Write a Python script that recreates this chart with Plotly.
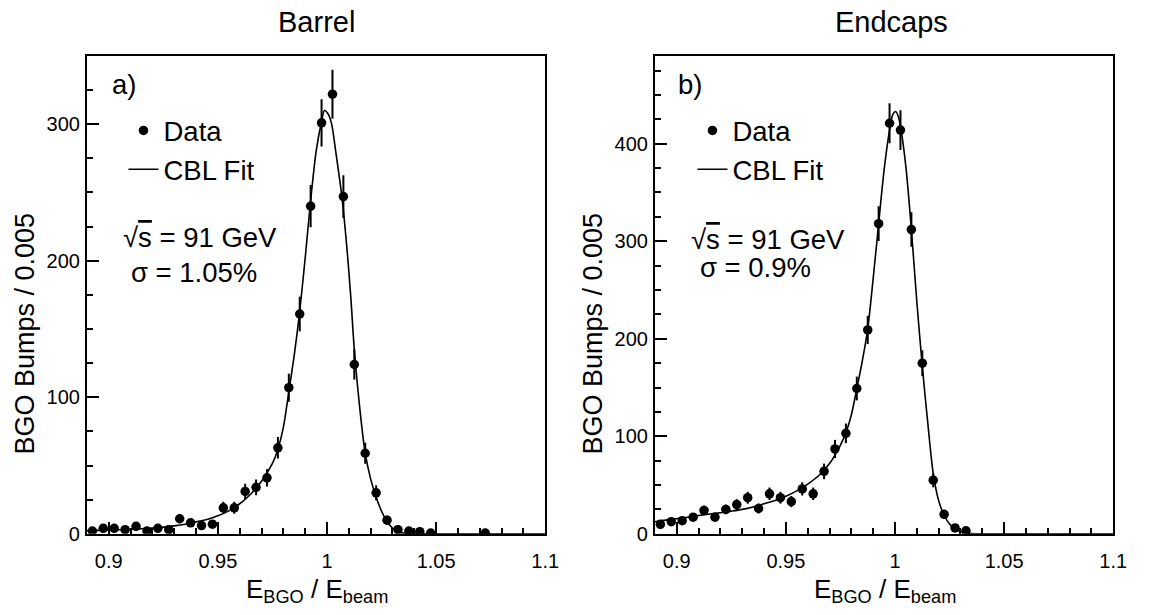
import plotly.graph_objects as go

# ---------------- data ----------------
bins_a = [0.8925, 0.8975, 0.9025, 0.9075, 0.9125, 0.9175, 0.9225, 0.9275, 0.9325, 0.9375,
          0.9425, 0.9475, 0.9525, 0.9575, 0.9625, 0.9675, 0.9725, 0.9775, 0.9825, 0.9875,
          0.9925, 0.9975, 1.0025, 1.0075, 1.0125, 1.0175, 1.0225, 1.0275, 1.0325, 1.0375,
          1.0425, 1.0475, 1.0725]
counts_a = [2, 4, 4, 3, 5.5, 2, 4, 3, 11, 8,
            6, 7, 19, 19, 31, 34, 41, 63, 107, 161,
            240, 301, 322, 247, 124, 59, 30, 10, 3, 2,
            1.5, 0.5, 0.5]
errors_a = [1.4, 2, 2, 1.7, 2.3, 1.4, 2, 1.7, 3.3, 2.8,
            2.4, 2.6, 4.4, 4.4, 5.6, 5.8, 6.4, 7.9, 10.3, 12.7,
            15.5, 17.3, 17.9, 15.7, 11.1, 7.7, 5.5, 3.2, 1.7, 1.4,
            1.2, 0.7, 0.7]

fit_x_a = [0.89, 0.895, 0.90, 0.905, 0.91, 0.915, 0.92, 0.925, 0.93, 0.935,
           0.94, 0.945, 0.95, 0.955, 0.96, 0.965, 0.97, 0.975, 0.9775, 0.98,
           0.9825, 0.985, 0.9875, 0.99, 0.9925, 0.995, 0.9975, 0.9988, 1.0003, 1.002,
           1.004, 1.0068, 1.0093, 1.011, 1.0125, 1.015, 1.0175, 1.02, 1.0225, 1.025,
           1.0275, 1.03, 1.0325, 1.035, 1.04, 1.045, 1.05, 1.1]
fit_y_a = [2.3, 2.5, 2.8, 3.0, 3.3, 3.7, 4.2, 4.9, 5.8, 7.0,
           8.7, 10.5, 13.2, 16.8, 22, 29, 38.5, 51.5, 62, 78,
           104, 131, 163, 202, 244, 280, 302, 310, 308, 301,
           280, 247, 206, 171, 135, 92, 59, 40, 27, 16.5,
           9, 4.2, 1.6, 0.5, 0.1, 0.02, 0, 0]

bins_b = [0.8925, 0.8975, 0.9025, 0.9075, 0.9125, 0.9175, 0.9225, 0.9275, 0.9325, 0.9375,
          0.9425, 0.9475, 0.9525, 0.9575, 0.9625, 0.9675, 0.9725, 0.9775, 0.9825, 0.9875,
          0.9925, 0.9975, 1.0025, 1.0075, 1.0125, 1.0175, 1.0225, 1.0275, 1.0325]
counts_b = [9.7, 12.4, 13.4, 17, 24, 17, 25, 30, 37, 26,
            41, 37, 33, 46, 41, 64, 87, 103, 149, 209,
            318, 421, 414, 312, 175, 55, 20, 6, 3]
errors_b = [3.1, 3.5, 3.7, 4.1, 4.9, 4.1, 5.0, 5.5, 6.1, 5.1,
            6.4, 6.1, 5.7, 6.8, 6.4, 8.0, 9.3, 10.1, 12.2, 14.5,
            17.8, 20.5, 20.3, 17.7, 13.2, 7.4, 4.5, 2.4, 1.7]

fit_x_b = [0.89, 0.895, 0.90, 0.905, 0.91, 0.915, 0.92, 0.925, 0.93, 0.935,
           0.94, 0.945, 0.95, 0.955, 0.96, 0.965, 0.97, 0.975, 0.9775, 0.98,
           0.9825, 0.985, 0.9875, 0.99, 0.9925, 0.995, 0.9975, 0.999, 1.0003, 1.0015,
           1.0025, 1.005, 1.0075, 1.01, 1.0125, 1.015, 1.0175, 1.02, 1.0225, 1.025,
           1.0275, 1.03, 1.0325, 1.035, 1.04, 1.05, 1.1]
fit_y_b = [12.3, 14, 15.4, 17, 18.8, 20.2, 21.6, 23.2, 25, 27.5,
           30.8, 34.2, 38.5, 44, 51, 59.5, 72, 91, 103.5, 122,
           148.7, 177, 210, 262, 318, 373, 414, 430, 433, 428,
           418, 376, 312, 238, 172, 114, 62, 34, 19, 10,
           5, 2.2, 0.8, 0.3, 0.05, 0, 0]

x_tickvals = [0.9, 0.95, 1.0, 1.05, 1.1]
x_ticktext = ["0.9", "0.95", "1", "1.05", "1.1"]
y_tickvals_a = [0, 100, 200, 300]
y_tickvals_b = [0, 100, 200, 300, 400]

panel_titles = ["Barrel", "Endcaps"]
panel_labels = ["a)", "b)"]
sigma_texts = ["σ = 1.05%", "σ = 0.9%"]
energy_text = "√<span style='text-decoration:overline'>s</span> = 91 GeV"
y_title = "BGO Bumps / 0.005"
x_title = "E<sub>BGO</sub> / E<sub>beam</sub>"

# ---------------- figure ----------------
W, H = 1149, 615
FONT = "Liberation Sans, Arial, Helvetica, sans-serif"
TXT = 27.5

def px(x):
    return x / W

def py(y):
    return 1 - y / H

fig = go.Figure()

for i, (bx, cy, ey, fx, fy, ax) in enumerate([
        (bins_a, counts_a, errors_a, fit_x_a, fit_y_a, ""),
        (bins_b, counts_b, errors_b, fit_x_b, fit_y_b, "2")]):
    leg = "legend" if i == 0 else "legend2"
    fig.add_trace(go.Scatter(
        x=fx, y=fy, mode="lines", name="CBL Fit",
        line=dict(color="black", width=1.6, shape="spline", smoothing=0.8),
        xaxis="x" + ax, yaxis="y" + ax, legend=leg, legendrank=2,
        hoverinfo="skip"))
    fig.add_trace(go.Scatter(
        x=bx, y=cy, mode="markers", name="Data",
        marker=dict(color="black", size=9.5),
        error_y=dict(type="data", array=ey, color="black", thickness=2, width=0),
        xaxis="x" + ax, yaxis="y" + ax, legend=leg, legendrank=1))

ytop, ybot = 57, 543.5
dom_y = [py(ybot), py(ytop)]
dom_xa = [px(88), px(552)]
dom_xb = [px(663), px(1127)]

common_x = dict(range=[0.89, 1.1], tickvals=x_tickvals, ticktext=x_ticktext,
                ticks="inside", ticklen=12, tickwidth=1.5, tickcolor="black",
                showline=True, linewidth=2, linecolor="black", mirror=True,
                showgrid=False, zeroline=False,
                tickfont=dict(family=FONT, size=20, color="black"),
                ticklabelstandoff=8,
                minor=dict(tickmode="linear", tick0=0.89, dtick=0.01, ticks="inside",
                           ticklen=6, tickwidth=1.5, tickcolor="black", showgrid=False))
common_y = dict(ticks="inside", ticklen=12, tickwidth=1.5, tickcolor="black",
                showline=True, linewidth=2, linecolor="black", mirror=True,
                showgrid=False, zeroline=False,
                tickfont=dict(family=FONT, size=20, color="black"),
                ticklabelstandoff=1,
                minor=dict(tickmode="linear", tick0=0, dtick=25, ticks="inside",
                           ticklen=6, tickwidth=1.5, tickcolor="black", showgrid=False))

fig.update_layout(
    width=W, height=H,
    margin=dict(l=0, r=0, t=0, b=0),
    paper_bgcolor="white", plot_bgcolor="white",
    font=dict(family=FONT, color="black"),
    xaxis=dict(domain=dom_xa, anchor="y", **common_x),
    yaxis=dict(domain=dom_y, anchor="x", range=[0, 350], tickvals=y_tickvals_a, **common_y),
    xaxis2=dict(domain=dom_xb, anchor="y2", **common_x),
    yaxis2=dict(domain=dom_y, anchor="x2", range=[0, 490], tickvals=y_tickvals_b, **common_y),
    legend=dict(x=px(125), y=py(108), xanchor="left", yanchor="top",
                font=dict(family=FONT, size=TXT, color="black"),
                bgcolor="rgba(0,0,0,0)", borderwidth=0, itemwidth=30, tracegroupgap=0),
    legend2=dict(x=px(701), y=py(108), xanchor="left", yanchor="top",
                 font=dict(family=FONT, size=TXT, color="black"),
                 bgcolor="rgba(0,0,0,0)", borderwidth=0, itemwidth=30, tracegroupgap=0),
    showlegend=True,
)

ann = []
# panel titles
for cx, t in zip([320, 903], panel_titles):
    ann.append(dict(x=px(cx), y=py(22), xref="paper", yref="paper", text=t,
                    showarrow=False, xanchor="center", yanchor="middle",
                    font=dict(family=FONT, size=29, color="black")))
# panel labels
for lx, t in zip([111, 684], panel_labels):
    ann.append(dict(x=px(lx), y=py(86), xref="paper", yref="paper", text=t,
                    showarrow=False, xanchor="left", yanchor="middle",
                    font=dict(family=FONT, size=TXT, color="black")))
# energy and sigma
for lx, ly in zip([122, 697], [242, 244]):
    ann.append(dict(x=px(lx), y=py(ly), xref="paper", yref="paper", text=energy_text,
                    showarrow=False, xanchor="left", yanchor="middle",
                    font=dict(family=FONT, size=TXT, color="black")))
for lx, ly, t in zip([131, 707], [277, 272], sigma_texts):
    ann.append(dict(x=px(lx), y=py(ly), xref="paper", yref="paper", text=t,
                    showarrow=False, xanchor="left", yanchor="middle",
                    font=dict(family=FONT, size=TXT, color="black")))
# axis titles
for cx in [25, 600]:
    ann.append(dict(x=px(cx), y=py(340), xref="paper", yref="paper", text=y_title,
                    showarrow=False, xanchor="center", yanchor="middle", textangle=-90,
                    font=dict(family=FONT, size=27, color="black")))
for cx in [321, 896]:
    ann.append(dict(x=px(cx), y=py(601), xref="paper", yref="paper", text=x_title,
                    showarrow=False, xanchor="center", yanchor="middle",
                    font=dict(family=FONT, size=26, color="black")))
fig.update_layout(annotations=ann)

fig.write_html("out.html")
